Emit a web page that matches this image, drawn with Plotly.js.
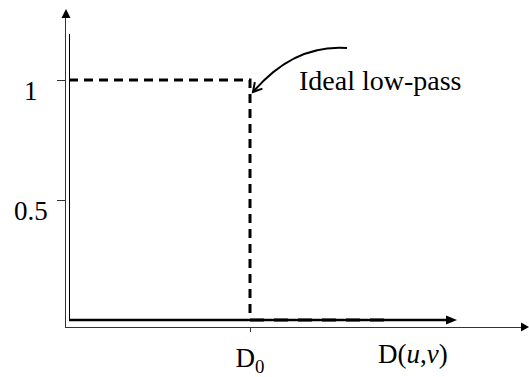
<!DOCTYPE html>
<html>
<head>
<meta charset="utf-8">
<script src="https://cdn.plot.ly/plotly-3.0.1.min.js"></script>
<style>html,body{margin:0;padding:0;background:#fff;}#chart{width:529px;height:377px;}</style>
</head>
<body>
<div id="chart"></div>
<script>
// ---- data ----
const cutoffLabel = 'D<sub>0</sub>';
const D0 = 1;
const passX = [0, 1, 1];          // pass band then drop at D0
const passY = [1, 1, 0];
const stopX = [1, 1.75];          // stop band
const stopY = [0, 0];
const yTickVals = [0.5, 1];
const yTickText = ['0.5', '1'];
const xTickVals = [1];
const xTickText = [cutoffLabel];
const curveLabel = 'Ideal low-pass';
const xAxisLabel = 'D(<i>u</i>,<i>v</i>)';

// ---- layout geometry (pixels) ----
const W = 529, H = 377;
const L = 66, R = 522, T = 17, B = 327;
const x0Px = 69, xD0Px = 250, y0Px = 320, y1Px = 80;
const sx = (xD0Px - x0Px) / D0, sy = (y0Px - y1Px) / 1;
const xRange = [-(x0Px - L) / sx, (R - x0Px) / sx];
const yRange = [-(B - y0Px) / sy, (y0Px - T) / sy];
const px = p => (p - L) / (R - L);
const py = p => (B - p) / (B - T);
const P = (x, y) => px(x) + ',' + py(y);

function tri(tip, dir, len, half) {
  const bx = tip[0] - dir[0] * len, by = tip[1] - dir[1] * len;
  const nx = -dir[1], ny = dir[0];
  return 'M' + P(tip[0], tip[1]) + ' L' + P(bx + nx * half, by + ny * half) +
    ' L' + P(bx - nx * half, by - ny * half) + ' Z';
}

const shapes = [];
const dec = {xref: 'paper', yref: 'paper', layer: 'above'};
shapes.push(Object.assign({type: 'path', path: tri([66, 9], [0, -1], 9, 4.5), fillcolor: '#000', line: {width: 0}}, dec));
shapes.push(Object.assign({type: 'path', path: tri([529, 327], [1, 0], 8, 4.5), fillcolor: '#000', line: {width: 0}}, dec));
shapes.push(Object.assign({type: 'line', x0: px(69.5), x1: px(69.5), y0: py(34), y1: py(320), line: {color: '#000', width: 1}}, dec));
shapes.push(Object.assign({type: 'line', x0: px(69), x1: px(447), y0: py(320), y1: py(320), line: {color: '#000', width: 2.5}}, dec));
shapes.push(Object.assign({type: 'path', path: tri([457, 320], [1, 0], 11, 4.5), fillcolor: '#000', line: {width: 0}}, dec));
const c0 = [347, 48], c1 = [294, 44], c2 = [253, 92];
shapes.push(Object.assign({type: 'path', path: 'M' + P(c0[0], c0[1]) + ' Q' + P(c1[0], c1[1]) + ' ' + P(c2[0], c2[1]),
  line: {color: '#000', width: 2}}, dec));
(function () {
  let dx = c2[0] - c1[0], dy = c2[1] - c1[1];
  const n = Math.hypot(dx, dy); dx /= n; dy /= n;
  const bx = -dx, by = -dy, len = 10, a = 30 * Math.PI / 180;
  const r1 = [bx * Math.cos(a) - by * Math.sin(a), bx * Math.sin(a) + by * Math.cos(a)];
  const r2 = [bx * Math.cos(-a) - by * Math.sin(-a), bx * Math.sin(-a) + by * Math.cos(-a)];
  shapes.push(Object.assign({type: 'path', path: 'M' + P(c2[0] + r1[0] * len, c2[1] + r1[1] * len) + ' L' + P(c2[0], c2[1]) +
    ' L' + P(c2[0] + r2[0] * len, c2[1] + r2[1] * len), line: {color: '#000', width: 2}}, dec));
})();

const font = {family: 'Liberation Serif, Times New Roman, serif', color: '#000'};

const traces = [
  {x: passX, y: passY, mode: 'lines', name: curveLabel, line: {color: '#000', width: 3, dash: '9px,6px'}, hoverinfo: 'skip', cliponaxis: false},
  {x: stopX, y: stopY, mode: 'lines', name: curveLabel, line: {color: '#000', width: 3, dash: '14px,10px'}, hoverinfo: 'skip', cliponaxis: false}
];

const annotations = [
  {xref: 'paper', yref: 'paper', x: px(297), y: py(80), xanchor: 'left', yanchor: 'middle', text: curveLabel,
    showarrow: false, font: Object.assign({size: 28}, font)},
  {xref: 'paper', yref: 'paper', x: px(413), y: py(354), xanchor: 'center', yanchor: 'middle', text: xAxisLabel,
    showarrow: false, font: Object.assign({size: 27}, font)}
];
yTickVals.forEach((v, i) => annotations.push({
  xref: 'paper', yref: 'y', x: px(30.5), y: v, xanchor: 'center', yanchor: 'middle', yshift: -11,
  text: yTickText[i], showarrow: false, font: Object.assign({size: 27}, font)
}));

const layout = {
  width: W, height: H,
  margin: {l: L, r: W - R, t: T, b: H - B, pad: 0},
  paper_bgcolor: '#fff', plot_bgcolor: '#fff',
  showlegend: false,
  font: Object.assign({size: 27}, font),
  xaxis: {range: xRange, showgrid: false, zeroline: false, showline: true, linecolor: '#333', linewidth: 1,
    ticks: 'outside', ticklen: 4, tickcolor: '#333', tickwidth: 1,
    tickmode: 'array', tickvals: xTickVals, ticktext: xTickText, ticklabelstandoff: 3,
    tickfont: Object.assign({size: 27}, font), fixedrange: true},
  yaxis: {range: yRange, showgrid: false, zeroline: false, showline: true, linecolor: '#333', linewidth: 1,
    ticks: 'outside', ticklen: 8, tickcolor: '#333', tickwidth: 1,
    tickmode: 'array', tickvals: yTickVals, ticktext: yTickText, showticklabels: false,
    fixedrange: true},
  shapes: shapes,
  annotations: annotations
};

Plotly.newPlot('chart', traces, layout, {staticPlot: true, displayModeBar: false});
</script>
</body>
</html>
